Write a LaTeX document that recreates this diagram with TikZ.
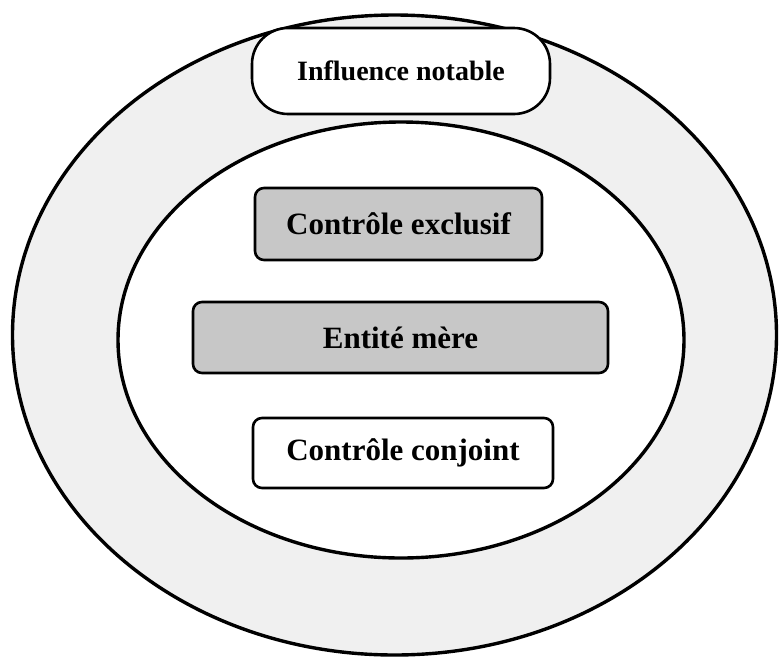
\documentclass[tikz,border=0pt]{standalone}
\usepackage{fontspec}
\setmainfont{Liberation Serif}
\usepackage{tikz}

\begin{document}
\begin{tikzpicture}[x=1pt,y=-1pt,
  zone/.style={line width=3.4pt},
  box/.style={draw,line width=2.6pt,rounded corners=9pt,minimum height=71pt,inner sep=2pt,font=\fontsize{31}{36}\selectfont\bfseries},
  grisbox/.style={box,fill=black!22}]
\useasboundingbox (0,0) rectangle (779,657);
% the two zones
\draw[zone,fill=black!6] (394.5,335) ellipse [x radius=382,y radius=320];
\draw[zone,fill=white] (401,340) ellipse [x radius=283,y radius=218];
\node[box,fill=white,rounded corners=36pt,minimum width=298pt,minimum height=86pt,font=\fontsize{28}{34}\selectfont\bfseries] (infl) at (401,71) {Influence notable};
\node[grisbox,minimum width=287pt,minimum height=72pt] (excl) at (398.5,224) {Contrôle exclusif};
\node[grisbox,minimum width=415pt] (mere) at (400.5,337.5) {Entité mère};
\node[box,fill=white,minimum width=300pt,minimum height=70pt] (conj) at (403,453) {Contrôle conjoint};
\end{tikzpicture}
\end{document}
